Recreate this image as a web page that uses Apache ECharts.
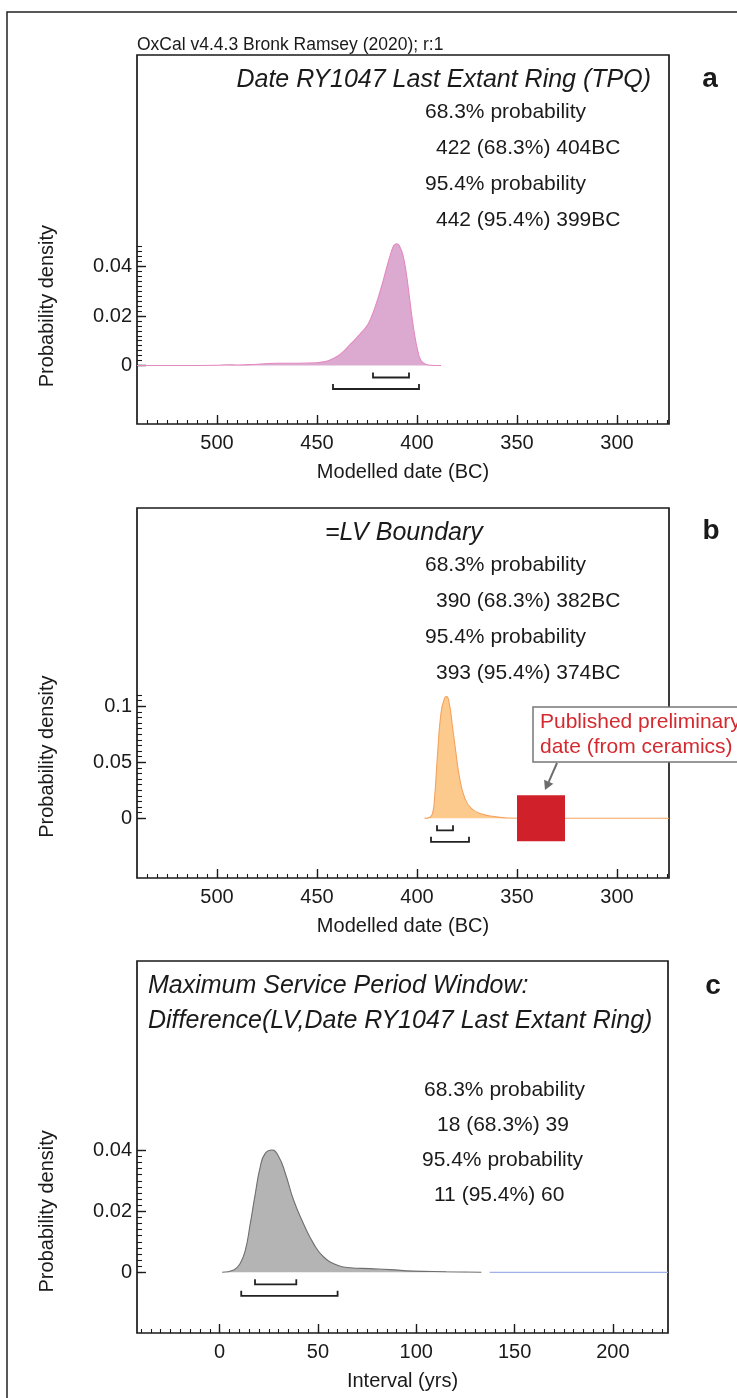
<!DOCTYPE html>
<html><head><meta charset="utf-8">
<script src="https://cdn.jsdelivr.net/npm/echarts@6/dist/echarts.min.js"></script>
<style>html,body{margin:0;padding:0;background:#fff}#c{width:737px;height:1398px}</style>
</head><body><div id="c"></div>
<script>
// ---------- DATA ----------
// Panel a: Date RY1047 Last Extant Ring (TPQ)  (years BC, probability density)
const aYears   = [540, 520, 500, 495, 490, 480, 471, 460, 450, 446, 443, 440, 437, 434, 431, 428, 425, 423, 421, 419, 417, 415, 413, 411.5, 410, 408.5, 407, 405.5, 404, 402.5, 401, 399.5, 398, 396, 393, 388];
const aDensity = [0, 0, 0.0001, 0.0003, 0.0002, 0.0005, 0.0009, 0.0009, 0.0011, 0.0016, 0.0024, 0.0036, 0.0055, 0.008, 0.0105, 0.0132, 0.016, 0.0192, 0.0235, 0.0285, 0.034, 0.040, 0.0455, 0.0486, 0.0492, 0.0478, 0.0445, 0.038, 0.029, 0.0195, 0.0115, 0.0055, 0.002, 0.0006, 0.0001, 0];
const aRanges  = [[422, 404], [442, 399]];   // 68.3%, 95.4%

// Panel b: =LV Boundary
const bYears   = [396.3, 393.5, 392.2, 391.3, 389.7, 388, 386.3, 385.2, 383.8, 382.2, 380.5, 378.8, 376.3, 373, 368, 361.3, 354.7, 345, 274];
const bDensity = [0, 0.001, 0.0045, 0.016, 0.058, 0.094, 0.107, 0.1086, 0.102, 0.081, 0.058, 0.037, 0.019, 0.009, 0.004, 0.0015, 0.0003, 0, 0];
const bRanges  = [[390, 382], [393, 374]];
const bPublished = [[350, 326]];             // published preliminary date (ceramics), years BC

// Panel c: Maximum Service Period Window (interval, yrs)
const cYears   = [1.3, 7.2, 10.5, 13.1, 15.6, 18.2, 20.7, 23.2, 26.6, 30, 33.4, 37.6, 42.6, 47.7, 52.8, 59.6, 66.3, 76.5, 86.6, 98.4, 115.4, 133.1];
const cDensity = [0, 0.0008, 0.003, 0.0073, 0.016, 0.026, 0.0347, 0.039, 0.0401, 0.038, 0.0325, 0.0237, 0.016, 0.0095, 0.0051, 0.0024, 0.0015, 0.0012, 0.0009, 0.0004, 0.0002, 0];
const cTailYears   = [137.3, 228];
const cTailDensity = [0, 0];
const cRanges  = [[18, 39], [11, 60]];

// Tick labels
const xLabelsBC  = [500, 450, 400, 350, 300];
const xLabelsInt = [0, 50, 100, 150, 200];
const yLabelsA = [0, 0.02, 0.04];
const yLabelsB = [0, 0.05, 0.1];
const yLabelsC = [0, 0.02, 0.04];

// ---------- HELPERS ----------
function range(a, b, s) { const out = []; for (let v = a; v <= b + s / 1000; v += s) out.push(Math.round(v * 1e6) / 1e6); return out; }
const zip = (xs, ys) => xs.map((x, i) => [x, ys[i]]);
const FONT = '"Liberation Sans", Arial, Helvetica, sans-serif';
const TXT = '#1a1a1a';
const AX = '#1a1a1a';

function xAxes(grid, min, max, inverse, labels, minors, name) {
  return [{
    type: 'value', gridIndex: grid, min, max, inverse, position: 'bottom',
    name, nameLocation: 'middle', nameGap: 38,
    nameTextStyle: { fontSize: 20, color: TXT, fontFamily: FONT },
    axisLine: { show: false, onZero: false },
    axisTick: { show: true, inside: true, length: 9, customValues: labels, lineStyle: { color: AX, width: 1.4 } },
    axisLabel: { show: true, customValues: labels, margin: 9, fontSize: 20, color: TXT, fontFamily: FONT },
    splitLine: { show: false }
  }, {
    type: 'value', gridIndex: grid, min, max, inverse, position: 'bottom',
    axisLine: { show: false, onZero: false },
    axisTick: { show: true, inside: true, length: 4, customValues: minors, lineStyle: { color: AX, width: 1.1 } },
    axisLabel: { show: false }, splitLine: { show: false }
  }];
}
function yAxes(grid, min, max, labels, minors) {
  return [{
    type: 'value', gridIndex: grid, min, max, position: 'left',
    axisLine: { show: false, onZero: false },
    axisTick: { show: true, inside: true, length: 9, customValues: labels, lineStyle: { color: AX, width: 1.4 } },
    axisLabel: { show: true, customValues: labels, margin: 5, fontSize: 20, color: TXT, fontFamily: FONT,
      formatter: v => String(+(+v).toFixed(4)) },
    splitLine: { show: false }
  }, {
    type: 'value', gridIndex: grid, min, max, position: 'left',
    axisLine: { show: false, onZero: false },
    axisTick: { show: true, inside: true, length: 5, customValues: minors, lineStyle: { color: AX, width: 1.1 } },
    axisLabel: { show: false }, splitLine: { show: false }
  }];
}
function bracketSeries(xi, yi, data) {
  return {
    type: 'custom', xAxisIndex: xi, yAxisIndex: yi, data, z: 5, clip: false, silent: true,
    encode: { x: [0, 1] },
    renderItem: (params, api) => {
      const p1 = api.coord([api.value(0), 0]);
      const p2 = api.coord([api.value(1), 0]);
      const y0 = p1[1] + (params.dataIndex === 0 ? 12 : 23.5);
      return { type: 'polyline', shape: { points: [[p1[0], y0 - 5], [p1[0], y0], [p2[0], y0], [p2[0], y0 - 5]] },
        style: { stroke: '#222', lineWidth: 1.8, fill: null } };
    }
  };
}
function areaSeries(xi, yi, data, line, fill) {
  return { type: 'line', xAxisIndex: xi, yAxisIndex: yi, data, smooth: 0.5,
    symbol: 'none', silent: true, lineStyle: { color: line, width: 1.1 }, areaStyle: { color: fill, opacity: 1 }, z: 2 };
}

const grids = [
  { left: 137, top: 55, width: 532, height: 369 },
  { left: 137, top: 508, width: 532, height: 370 },
  { left: 137, top: 961, width: 531, height: 372 }
].map(g => Object.assign(g, { show: true, borderColor: '#1a1a1a', borderWidth: 1.7, backgroundColor: 'transparent', containLabel: false, outerBoundsMode: 'none' }));

const option = {
  animation: false,
  backgroundColor: '#fff',
  grid: grids,
  xAxis: [
    ...xAxes(0, 274, 540, true, xLabelsBC, range(275, 535, 5), 'Modelled date (BC)'),
    ...xAxes(1, 274, 540, true, xLabelsBC, range(275, 535, 5), 'Modelled date (BC)'),
    ...xAxes(2, -42, 228, false, xLabelsInt, range(-40, 225, 5), 'Interval (yrs)')
  ],
  yAxis: [
    ...yAxes(0, -0.02364, 0.12545, yLabelsA, range(0, 0.048, 0.002)),
    ...yAxes(1, -0.0533, 0.277, yLabelsB, range(0, 0.11, 0.005)),
    ...yAxes(2, -0.0199, 0.1021, yLabelsC, range(0, 0.04, 0.002))
  ],
  series: [
    areaSeries(0, 0, zip(aYears, aDensity), '#e389c0', '#dcaad0'),
    bracketSeries(0, 0, aRanges),
    areaSeries(2, 2, zip(bYears, bDensity), '#f5a25d', '#fdca8e'),
    {
      type: 'custom', xAxisIndex: 2, yAxisIndex: 2, data: bPublished, z: 6, silent: true, encode: { x: [0, 1] },
      renderItem: (params, api) => {
        const p1 = api.coord([api.value(0), 0]);
        const p2 = api.coord([api.value(1), 0]);
        return { type: 'rect', shape: { x: Math.min(p1[0], p2[0]), y: p1[1] - 23, width: Math.abs(p2[0] - p1[0]), height: 46 },
          style: { fill: '#d0202a' } };
      }
    },
    bracketSeries(2, 2, bRanges),
    areaSeries(4, 4, zip(cYears, cDensity), '#6e6e6e', '#b4b4b4'),
    { type: 'line', xAxisIndex: 4, yAxisIndex: 4, data: zip(cTailYears, cTailDensity), symbol: 'none', silent: true,
      lineStyle: { color: '#9fb1e6', width: 1.3 } },
    bracketSeries(4, 4, cRanges)
  ]
};

const chart = echarts.init(document.getElementById('c'), null, { renderer: 'canvas', width: 737, height: 1398 });
chart.setOption(option);

function txt(text, x, y, font, opts) {
  return Object.assign({ type: 'text', x, y, z: 100, silent: true,
    style: Object.assign({ text, font, fill: TXT, align: 'left', verticalAlign: 'middle', textAlign: 'left', textVerticalAlign: 'middle' }, (opts && opts.style) || {}) },
    opts && opts.rotation !== undefined ? { rotation: opts.rotation } : {});
}
const F21 = '21px ' + FONT;
const FT = 'italic 25px ' + FONT;
const FL = 'bold 28px ' + FONT;
const mid = (ai, lo, hi) => (chart.convertToPixel({ yAxisIndex: ai }, lo) + chart.convertToPixel({ yAxisIndex: ai }, hi)) / 2;

const graphic = [
  { type: 'rect', shape: { x: 7, y: 12, width: 900, height: 1500 }, style: { fill: null, stroke: '#222', lineWidth: 1.5 }, silent: true, z: 1 },
  txt('OxCal v4.4.3 Bronk Ramsey (2020); r:1', 137, 45, '17.5px ' + FONT),
  // panel a
  txt('Date RY1047 Last Extant Ring (TPQ)', 651, 80, FT, { style: { align: 'right', textAlign: 'right' } }),
  txt('68.3% probability', 425, 112, F21),
  txt('422 (68.3%) 404BC', 436, 148, F21),
  txt('95.4% probability', 425, 184, F21),
  txt('442 (95.4%) 399BC', 436, 220, F21),
  txt('a', 710, 79, FL, { style: { align: 'center', textAlign: 'center' } }),
  // panel b
  txt('=LV Boundary', 325, 533, FT),
  txt('68.3% probability', 425, 565, F21),
  txt('390 (68.3%) 382BC', 436, 601, F21),
  txt('95.4% probability', 425, 637, F21),
  txt('393 (95.4%) 374BC', 436, 673, F21),
  txt('b', 711, 531, FL, { style: { align: 'center', textAlign: 'center' } }),
  // callout
  { type: 'rect', shape: { x: 533, y: 707, width: 230, height: 55 }, style: { fill: '#fff', stroke: '#777', lineWidth: 1.5 }, silent: true, z: 90 },
  txt('Published preliminary', 540, 722, F21, { style: { fill: '#d42a2f' } }),
  txt('date (from ceramics)', 540, 747, F21, { style: { fill: '#d42a2f' } }),
  { type: 'line', shape: { x1: 557, y1: 763, x2: 548.7, y2: 781.8 }, style: { stroke: '#6d6d6d', lineWidth: 2 }, silent: true, z: 90 },
  { type: 'polygon', shape: { points: [[545, 790], [553.3, 783.8], [544.1, 779.8]] }, style: { fill: '#6d6d6d' }, silent: true, z: 90 },
  // panel c
  txt('Maximum Service Period Window:', 148, 986, FT),
  txt('Difference(LV,Date RY1047 Last Extant Ring)', 148, 1021, FT),
  txt('68.3% probability', 424, 1090, F21),
  txt('18 (68.3%) 39', 437, 1125, F21),
  txt('95.4% probability', 422, 1160, F21),
  txt('11 (95.4%) 60', 434, 1195, F21),
  txt('c', 713, 986, FL, { style: { align: 'center', textAlign: 'center' } }),
  // y-axis names centred on the ticked range
  txt('Probability density', 47, mid(0, 0, 0.048), '20px ' + FONT, { rotation: Math.PI / 2, style: { align: 'center', textAlign: 'center' } }),
  txt('Probability density', 47, mid(2, 0, 0.11), '20px ' + FONT, { rotation: Math.PI / 2, style: { align: 'center', textAlign: 'center' } }),
  txt('Probability density', 47, mid(4, 0, 0.04), '20px ' + FONT, { rotation: Math.PI / 2, style: { align: 'center', textAlign: 'center' } })
];
chart.setOption({ graphic });
</script>
</body></html>
